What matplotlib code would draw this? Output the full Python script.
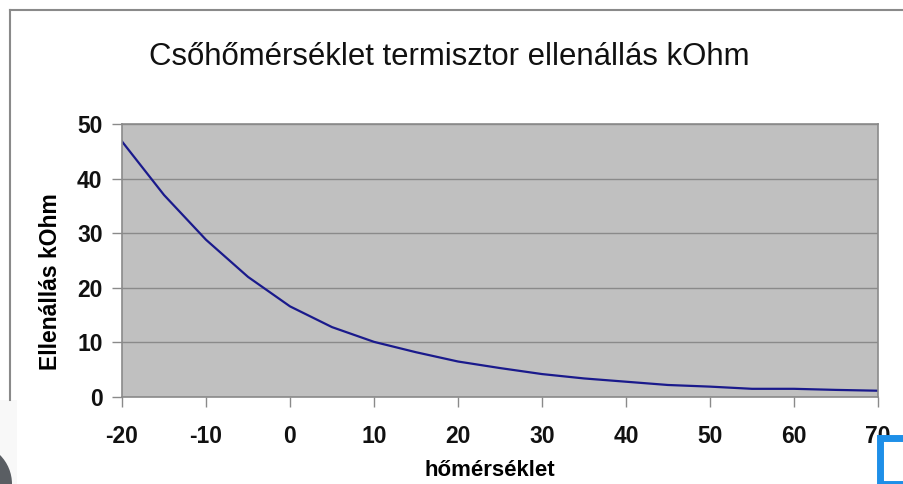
import matplotlib
matplotlib.use("Agg")
import matplotlib.pyplot as plt
from matplotlib.patches import Rectangle, Circle
from matplotlib.lines import Line2D
from matplotlib.transforms import IdentityTransform

plt.rcParams["axes.unicode_minus"] = False

# thermistor resistance table (kOhm) vs pipe temperature (°C)
temperature = [-20, -15, -10, -5, 0, 5, 10, 15, 20, 25, 30, 35, 40, 45, 50, 55, 60, 65, 70]
resistance = [46.8, 37.0, 28.8, 22.0, 16.6, 12.8, 10.1, 8.2, 6.5, 5.3, 4.2, 3.4, 2.8, 2.2, 1.9, 1.5, 1.5, 1.3, 1.15]

x_ticks = [-20, -10, 0, 10, 20, 30, 40, 50, 60, 70]
y_ticks = [0, 10, 20, 30, 40, 50]

W, H = 904, 484
fig = plt.figure(figsize=(W / 100, H / 100), dpi=100)
fig.patch.set_facecolor("white")

ax = fig.add_axes([122 / W, 1 - 397 / H, (878 - 122) / W, (397 - 124) / H])
ax.set_facecolor("#c0c0c0")
ax.plot(temperature, resistance, color="#1a1a8c", lw=1.6)

ax.set_xlim(-20, 70)
ax.set_ylim(0, 50)
ax.set_xticks(x_ticks)
ax.set_yticks(y_ticks)
ax.yaxis.grid(True, color="#8a8a8a", lw=1.0)
ax.set_axisbelow(True)
for s in ax.spines.values():
    s.set_color("#8a8a8a")
    s.set_linewidth(1.2)
ax.tick_params(axis="both", direction="out", color="#8a8a8a", length=7, width=1.0,
               labelsize=16.5)
ax.tick_params(axis="x", pad=13)
ax.tick_params(axis="y", pad=7)
for lab in ax.get_xticklabels() + ax.get_yticklabels():
    lab.set_fontfamily("Liberation Sans")
    lab.set_fontweight("bold")
    lab.set_color("#111111")

ax.set_ylabel("Ellenállás kOhm", fontsize=16.5, fontweight="bold",
              fontfamily="Liberation Sans")
ax.set_xlabel("hőmérséklet", fontsize=16, fontweight="bold",
              fontfamily="Liberation Sans")
# label centres, given in axes fractions
ax.yaxis.set_label_coords((51 - 122) / 756, (397 - 282) / 273)
ax.xaxis.set_label_coords((490 - 122) / 756, (397 - 470) / 273)
ax.yaxis.label.set_va("center")
ax.xaxis.label.set_va("center")

fig.text(449 / W, 1 - 57 / H, "Csőhőmérséklet termisztor ellenállás kOhm",
         ha="center", va="center", fontsize=22.4,
         fontfamily="Liberation Sans", color="#111111")

# outer chart frame
fig.add_artist(Line2D([10 / W, 10 / W], [1 - 400 / H, 1 - 10 / H],
                      transform=fig.transFigure, color="#8a8a8a", lw=1.5))
fig.add_artist(Line2D([10 / W, 1.0], [1 - 10 / H, 1 - 10 / H],
                      transform=fig.transFigure, color="#8a8a8a", lw=1.5))

# corner overlays
fig.add_artist(Rectangle((0, 0), 17 / W, 84 / H, transform=fig.transFigure,
                         facecolor="#f8f8f8", edgecolor="none"))
fig.add_artist(Circle((-29, 0), 41, transform=IdentityTransform(),
                      facecolor="#5a5e63", edgecolor="none"))
fig.add_artist(Rectangle((880 / W, 0), 30 / W, 46 / H, transform=fig.transFigure,
                         facecolor="white", edgecolor="#1e8fe8", lw=5))

fig.savefig("out.png", dpi=100)
